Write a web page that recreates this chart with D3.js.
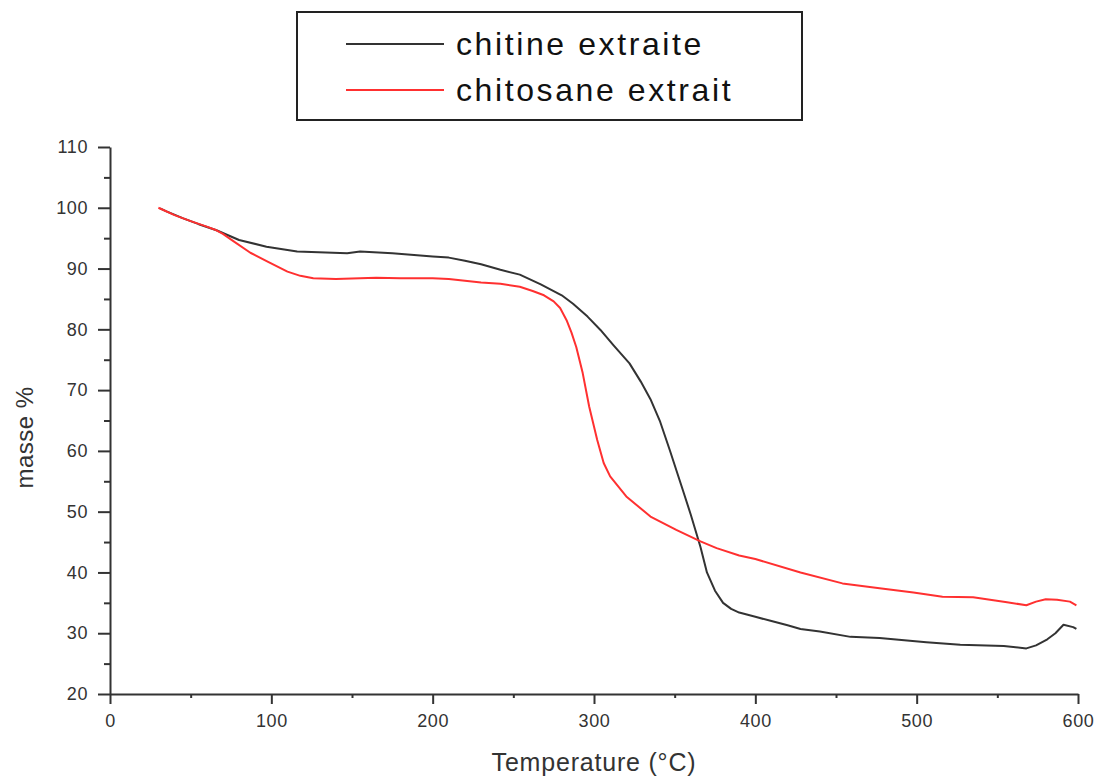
<!DOCTYPE html>
<html>
<head>
<meta charset="utf-8">
<script src="https://cdn.jsdelivr.net/npm/d3@7"></script>
<style>
  html, body { margin: 0; padding: 0; background: #fff; }
  svg { display: block; font-family: "Liberation Sans", Arial, sans-serif; }
</style>
</head>
<body>
<svg id="chart" width="1096" height="778"></svg>
<script>
// Thermogravimetric curves (mass % vs temperature)
const chitineTemp = [31, 35, 45, 55, 66, 80, 97, 116, 147, 155, 175, 200, 210, 220, 230, 242, 254, 267, 280, 287, 296, 304, 312, 322, 329, 335, 341, 347, 355, 360, 366, 370, 375, 380, 385, 390, 400, 410, 420, 428, 440, 459, 477, 506, 527, 554, 568, 574, 581, 586, 591, 597, 599];
const chitineMass = [99.9, 99.4, 98.3, 97.3, 96.3, 94.7, 93.6, 92.8, 92.5, 92.8, 92.5, 92.0, 91.8, 91.3, 90.7, 89.8, 89.0, 87.4, 85.6, 84.2, 82.1, 79.9, 77.4, 74.4, 71.4, 68.5, 64.8, 60.1, 53.6, 49.5, 44.2, 40.0, 37.0, 35.0, 34.0, 33.4, 32.7, 32.0, 31.3, 30.7, 30.3, 29.4, 29.2, 28.5, 28.1, 27.9, 27.5, 28.0, 29.0, 30.0, 31.4, 31.0, 30.7];

const chitosaneTemp = [30, 40, 50, 60, 66, 70, 76, 87, 98, 110, 118, 126, 140, 165, 180, 200, 210, 220, 230, 242, 254, 262, 269, 275, 279, 283, 286, 289, 293, 297, 302, 306, 310, 320, 335, 351, 366, 376, 390, 400, 428, 454, 477, 498, 516, 535, 556, 568, 574, 580, 587, 595, 599];
const chitosaneMass = [100, 98.8, 97.8, 96.9, 96.3, 95.7, 94.6, 92.6, 91.1, 89.5, 88.8, 88.4, 88.3, 88.5, 88.4, 88.4, 88.3, 88.0, 87.7, 87.5, 87.0, 86.3, 85.6, 84.6, 83.5, 81.5, 79.5, 77.1, 72.8, 67.3, 61.8, 58.0, 55.8, 52.5, 49.2, 47.0, 45.1, 44.0, 42.8, 42.2, 40.0, 38.2, 37.4, 36.7, 36.0, 35.9, 35.1, 34.6, 35.2, 35.6, 35.5, 35.2, 34.6];

const seriesNames = ["chitine extraite", "chitosane extrait"];
const seriesColors = ["#333333", "#ff3030"];

const xTicks = [0, 100, 200, 300, 400, 500, 600];
const yTicks = [20, 30, 40, 50, 60, 70, 80, 90, 100, 110];
const xTitle = "Temperature (°C)";
const yTitle = "masse %";

const svg = d3.select("#chart");
const axisColor = "#333";

const x = d3.scaleLinear().domain([0, 600]).range([110, 1078]);
const y = d3.scaleLinear().domain([20, 110]).range([694, 147]);

// minor ticks
const xMinor = d3.range(50, 600, 100);
const yMinor = d3.range(25, 110, 10);

const gx = svg.append("g").attr("transform", `translate(0,${y(20)})`);
gx.call(d3.axisBottom(x).tickValues(xTicks).tickSize(10).tickSizeOuter(0).tickPadding(10).tickFormat(d3.format("d")));
gx.append("g").call(d3.axisBottom(x).tickValues(xMinor).tickSize(4).tickSizeOuter(0).tickFormat(""))
  .select(".domain").remove();

const gy = svg.append("g").attr("transform", `translate(${x(0)},0)`);
gy.call(d3.axisLeft(y).tickValues(yTicks).tickSize(12).tickSizeOuter(0).tickPadding(10).tickFormat(d3.format("d")));
gy.append("g").call(d3.axisLeft(y).tickValues(yMinor).tickSize(6).tickSizeOuter(0).tickFormat(""))
  .select(".domain").remove();

svg.selectAll(".domain").attr("stroke", axisColor).attr("stroke-width", 2);
svg.selectAll(".tick line").attr("stroke", axisColor).attr("stroke-width", 2);
svg.selectAll(".tick text")
  .attr("fill", "#333")
  .style("font-size", "18px")
  .style("letter-spacing", "0.6px")
  .style("font-family", "'Liberation Sans', Arial, sans-serif");

// axis titles
svg.append("text")
  .attr("x", (x(0) + x(600)) / 2)
  .attr("y", 771)
  .attr("text-anchor", "middle")
  .attr("fill", "#333")
  .style("font-size", "25px")
  .style("letter-spacing", "0.8px")
  .text(xTitle);

svg.append("text")
  .attr("transform", `translate(33,${(y(20) + y(110)) / 2 + 17}) rotate(-90)`)
  .attr("text-anchor", "middle")
  .attr("fill", "#333")
  .style("font-size", "24px")
  .style("letter-spacing", "0.5px")
  .text(yTitle);

// curves
const line = d3.line().x(d => x(d[0])).y(d => y(d[1]));
const seriesData = [
  d3.zip(chitineTemp, chitineMass),
  d3.zip(chitosaneTemp, chitosaneMass)
];
seriesData.forEach((pts, i) => {
  svg.append("path")
    .datum(pts)
    .attr("fill", "none")
    .attr("stroke", seriesColors[i])
    .attr("stroke-width", 2)
    .attr("stroke-linejoin", "round")
    .attr("d", line);
});

// legend
const legend = svg.append("g");
legend.append("rect")
  .attr("x", 297).attr("y", 12)
  .attr("width", 505).attr("height", 108)
  .attr("fill", "#fff")
  .attr("stroke", "#222")
  .attr("stroke-width", 2);
seriesNames.forEach((name, i) => {
  const ly = 44 + i * 46;
  legend.append("line")
    .attr("x1", 346).attr("x2", 444)
    .attr("y1", ly).attr("y2", ly)
    .attr("stroke", seriesColors[i])
    .attr("stroke-width", 2);
  legend.append("text")
    .attr("x", 456).attr("y", ly + 11)
    .attr("fill", "#111")
    .style("font-size", "32px")
    .style("letter-spacing", "2.6px")
    .text(name);
});
</script>
</body>
</html>
